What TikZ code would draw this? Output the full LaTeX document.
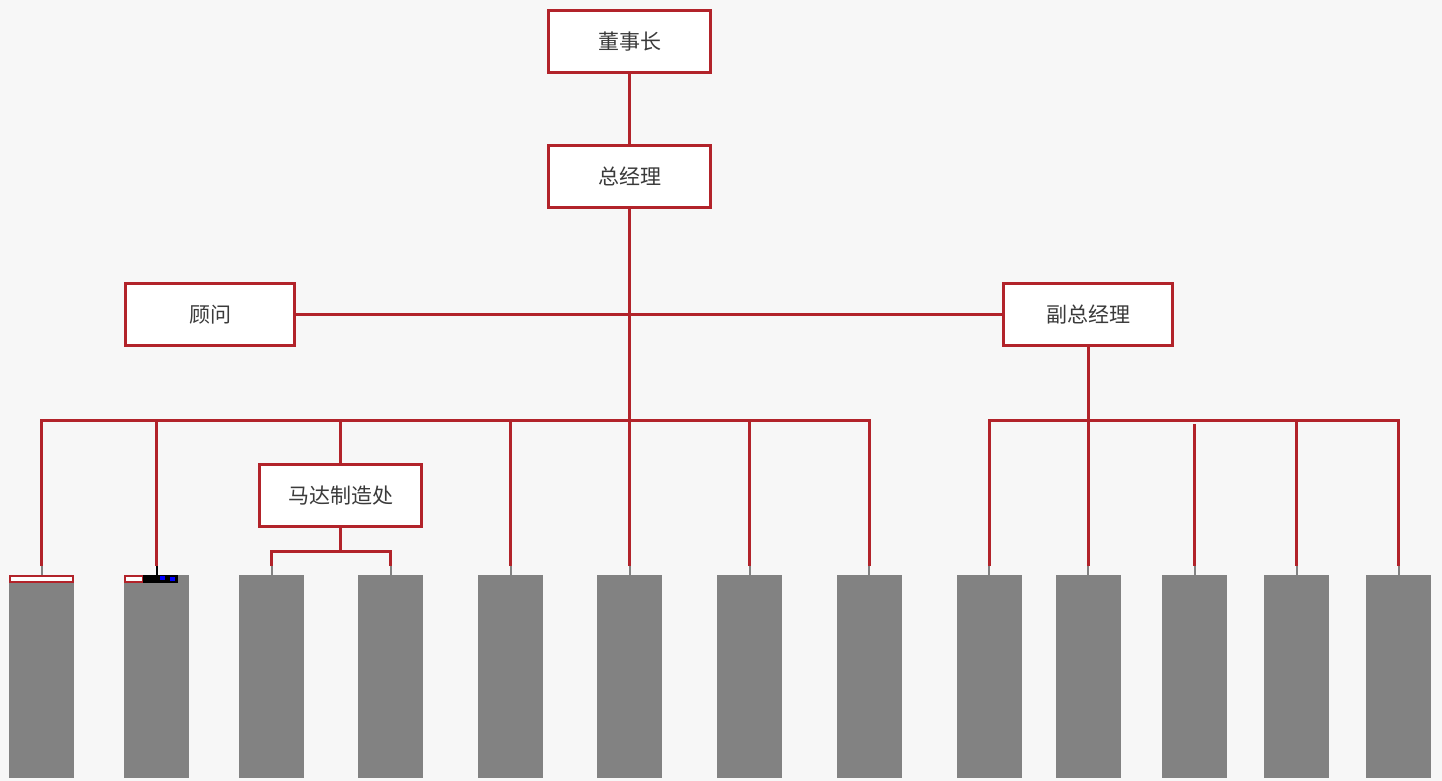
\documentclass[tikz,border=0pt]{standalone}
\usepackage{fontspec}
\newfontfamily\cjk{Noto Sans CJK SC}
\usetikzlibrary{positioning}
\definecolor{orgred}{HTML}{B2232A}
\definecolor{unitgray}{HTML}{828282}
\definecolor{bggray}{HTML}{F7F7F7}
\definecolor{textgray}{HTML}{3A3A3A}
\tikzset{
  post/.style={
    draw=orgred,line width=3pt,fill=white,text=textgray,
    font=\cjk\fontsize{21}{21}\selectfont,
    minimum width=162pt,minimum height=62pt,inner sep=0pt
  },
  unit/.style={fill=unitgray,minimum width=65pt,minimum height=203pt,inner sep=0pt,anchor=north},
  link/.style={draw=orgred,line width=3pt},
  stub/.style={draw=unitgray,line width=2pt},
}

\begin{document}
\begin{tikzpicture}[x=1pt,y=-1pt]
  % background
  \fill[bggray] (0,0) rectangle (1442,781);
  \useasboundingbox (0,0) rectangle (1442,781);

  % posts
  \node[post] at (629.5,41.5) (chair){董事长};
  \node[post] at (629.5,176.5) (gm){总经理};
  \node[post,minimum width=169pt] at (210,314.5) (adv){顾问};
  \node[post,minimum width=169pt] at (1088,314.5) (vgm){副总经理};
  \node[post] at (340.5,495.5) (motor){马达制造处};

  % units
  \foreach \x [count=\i] in
  {41.5,156.5,271.5,390.5,510.5,629.5,749.5,869,989,1088,1194.5,1296.5,1398.5}
  {
    \node[unit] at (\x,575) (u\i){};
  }

  % bus levels
  \coordinate (lbus) at (0,420);
  \coordinate (rbus) at (0,420);
  \coordinate (rgap) at (0,424);
  \coordinate (msub) at (0,551);

  % top
  \draw[link] (chair.south) -- (gm.north);
  \draw[link] (gm.south) -- (gm.south |- lbus);
  \draw[link] (adv.east) -- (vgm.west);

  % left bus
  \draw[link] ([yshift=9pt]u1.north) -- (u1.north |- lbus) -- (u8.north |- lbus) -- ([yshift=9pt]u8.north);
  \foreach \u in {u2,u5,u6,u7}
    \draw[link] (\u.north |- lbus) -- ([yshift=9pt]\u.north);
  \draw[link] (motor.north |- lbus) -- (motor.north);

  % motor branch
  \draw[link] (motor.south) -- (motor.south |- msub);
  \draw[link] ([yshift=9pt]u3.north) -- (u3.north |- msub) -- (u4.north |- msub) -- ([yshift=9pt]u4.north);

  % right bus
  \draw[link] ([yshift=9pt]u9.north) -- (u9.north |- rbus) -- (u13.north |- rbus) -- ([yshift=9pt]u13.north);
  \draw[link] (vgm.south) -- ([yshift=9pt]u10.north);
  \draw[link] (u11.north |- rgap) -- ([yshift=9pt]u11.north);
  \draw[link] (u12.north |- rbus) -- ([yshift=9pt]u12.north);

  % stubs
  \foreach \i in {1,3,4,5,...,13}
    \draw[stub] ([yshift=9pt]u\i.north) -- (u\i.north);

  % marks on the first two units
  \draw[draw=orgred,line width=2pt,fill=white] (10,576) rectangle (73,582);
  \draw[draw=orgred,line width=2pt,fill=white] (125,576) rectangle (143,582);
  \fill[black] (143,575) rectangle (178,583);
  \fill[blue] (160,576) rectangle (165,580);
  \fill[blue] (170,577) rectangle (175,581);
  \draw[black,line width=2pt] ([yshift=9pt]u2.north) -- (u2.north);
\end{tikzpicture}
\end{document}
